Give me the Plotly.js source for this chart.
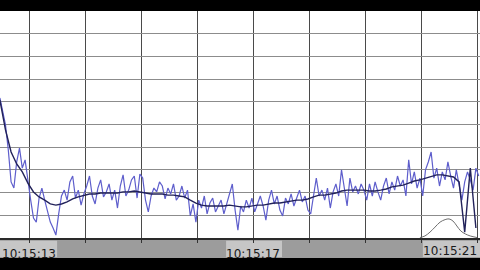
<!DOCTYPE html>
<html>
<head>
<meta charset="utf-8">
<script src="https://cdn.plot.ly/plotly-3.0.1.min.js"></script>
<style>
  html, body { margin: 0; padding: 0; background: #000; }
  #chart { width: 480px; height: 270px; }
</style>
</head>
<body>
<div id="chart"></div>
<script>
// ---- data (time in seconds after 10:15:00) ----
const tickSeconds = [13, 17];
const tickLabels = ["10:15:13", "10:15:17"];
const lastTickSeconds = [21];
const lastTickLabels = ["10:15:21"];

// raw signal, sampled every 0.05 s from 12.48 s
const RAW_START = 12.48, RAW_STEP = 0.05;
const rawValues = [
  6.17, 5.64, 4.98, 3.88, 2.47, 2.20, 3.35, 3.96, 3.08, 3.44,
  2.42, 1.67, 0.88, 0.70, 1.76, 2.20, 1.67, 1.15, 0.70, 0.44,
  0.13, 1.06, 1.85, 2.11, 1.67, 2.47, 2.73, 1.76, 2.11, 1.45,
  1.94, 2.29, 2.73, 1.85, 1.50, 2.20, 2.56, 1.81, 2.03, 2.38,
  1.67, 2.11, 1.32, 2.29, 2.78, 1.85, 2.11, 2.56, 2.73, 1.76,
  2.82, 2.64, 1.67, 1.15, 1.85, 2.20, 2.03, 2.47, 2.29, 1.72,
  2.20, 1.94, 2.38, 1.67, 1.85, 2.29, 1.76, 2.11, 0.97, 1.50,
  0.70, 1.67, 1.32, 1.85, 1.06, 1.54, 1.76, 1.15, 1.41, 1.67,
  1.06, 1.50, 1.85, 2.38, 1.23, 0.35, 1.41, 1.15, 1.67, 1.32,
  1.76, 1.15, 1.50, 1.85, 1.41, 0.79, 1.67, 2.11, 1.50, 1.85,
  1.23, 0.97, 1.76, 1.50, 1.94, 1.41, 1.76, 2.11, 1.59, 1.85,
  1.23, 1.06, 1.85, 2.64, 1.85, 2.11, 1.67, 2.20, 1.32, 2.03,
  2.38, 1.85, 3.00, 2.11, 1.41, 2.64, 2.03, 2.29, 1.94, 2.38,
  2.11, 1.67, 2.38, 1.85, 2.47, 2.03, 1.67, 2.29, 2.64, 1.94,
  2.47, 2.11, 2.73, 2.29, 2.56, 1.85, 3.44, 2.38, 2.91, 2.20,
  2.64, 1.85, 3.00, 3.35, 3.79, 2.64, 3.08, 2.29, 2.91, 2.56,
  3.35, 2.73, 2.20, 3.00, 2.38, 1.67, 2.47, 2.91, 2.56, 2.11,
  3.08, 2.73
];

// smoothed signal, sampled every 0.1 s from 12.48 s
const SMOOTH_START = 12.48, SMOOTH_STEP = 0.1;
const smoothValues = [
  6.08, 4.76, 3.79, 3.26, 2.91, 2.42, 2.03, 1.81, 1.67, 1.50,
  1.45, 1.50, 1.59, 1.72, 1.81, 1.89, 1.94, 1.94, 1.98, 1.98,
  1.98, 1.98, 2.03, 2.03, 2.07, 2.03, 1.98, 1.94, 1.94, 1.94,
  1.89, 1.89, 1.85, 1.81, 1.67, 1.54, 1.45, 1.41, 1.41, 1.41,
  1.41, 1.45, 1.41, 1.37, 1.37, 1.41, 1.45, 1.45, 1.50, 1.54,
  1.54, 1.59, 1.63, 1.67, 1.67, 1.72, 1.81, 1.89, 1.89, 1.94,
  1.98, 2.07, 2.11, 2.11, 2.11, 2.11, 2.07, 2.07, 2.11, 2.16,
  2.25, 2.29, 2.33, 2.42, 2.51, 2.56, 2.64, 2.73, 2.78, 2.78,
  2.73, 2.69, 2.47, 0.26, 3.08, 0.44
];

// bell-shaped curve near the right end
const bellTimes = [19.98, 20.07, 20.16, 20.25, 20.34, 20.43, 20.50, 20.57, 20.64, 20.71, 20.79, 20.88, 21.00];
const bellValues = [0.02, 0.09, 0.26, 0.48, 0.70, 0.81, 0.84, 0.75, 0.53, 0.31, 0.18, 0.09, 0.02];

const rawTimes = rawValues.map((_, i) => +(RAW_START + i * RAW_STEP).toFixed(3));
const smoothTimes = smoothValues.map((_, i) => +(SMOOTH_START + i * SMOOTH_STEP).toFixed(3));

const traces = [
  {
    x: rawTimes, y: rawValues, type: "scatter", mode: "lines",
    line: { color: "#5e5ecc", width: 1.2 }, hoverinfo: "skip"
  },
  {
    x: smoothTimes, y: smoothValues, type: "scatter", mode: "lines",
    line: { color: "#22225a", width: 1.4 }, hoverinfo: "skip"
  },
  {
    x: bellTimes, y: bellValues, type: "scatter", mode: "lines", xaxis: "x2",
    line: { color: "#6e6e6e", width: 1, shape: "spline" }, hoverinfo: "skip"
  }
];

const tickFont = { family: "DejaVu Sans", size: 12, color: "#1a1a1a" };
const xRange = [12.482, 21.053];

const layout = {
  width: 480, height: 270,
  margin: { l: 0, r: 0, t: 11, b: 32, pad: 0 },
  paper_bgcolor: "#000000",
  plot_bgcolor: "#ffffff",
  showlegend: false,
  xaxis: {
    range: xRange,
    tickmode: "array", tickvals: tickSeconds, ticktext: tickLabels,
    tickfont: tickFont,
    ticks: "outside", ticklen: 3, tickcolor: "#333333",
    ticklabelstandoff: 1,
    showgrid: true, gridcolor: "#4a4a4a", gridwidth: 1,
    minor: { dtick: 1, tick0: 13, showgrid: true, gridcolor: "#4a4a4a", gridwidth: 1,
             ticks: "outside", ticklen: 3, tickcolor: "#333333" },
    showline: true, linecolor: "#2a2a2a", linewidth: 2,
    zeroline: false, fixedrange: true
  },
  xaxis2: {
    overlaying: "x", matches: "x", range: xRange,
    tickmode: "array", tickvals: lastTickSeconds, ticktext: lastTickLabels,
    ticklabelposition: "outside left",
    tickfont: tickFont, ticks: "", ticklabelstandoff: 4,
    showgrid: false, showline: false, zeroline: false, fixedrange: true
  },
  yaxis: {
    range: [0, 10], dtick: 1, tick0: 0,
    showticklabels: false, ticks: "",
    showgrid: true, gridcolor: "#8c8c8c", gridwidth: 1,
    zeroline: false, showline: false, fixedrange: true
  },
  shapes: [
    { type: "rect", xref: "paper", yref: "paper", x0: 0, x1: 1, y0: -0.003, y1: -0.088,
      fillcolor: "#9c9c9c", line: { width: 0 }, layer: "below" },
    { type: "rect", xref: "paper", yref: "paper", x0: 0, x1: 0.119, y0: -0.012, y1: -0.084,
      fillcolor: "#c6c6c6", line: { width: 0 }, layer: "below" },
    { type: "rect", xref: "paper", yref: "paper", x0: 0.471, x1: 0.5875, y0: -0.012, y1: -0.084,
      fillcolor: "#c6c6c6", line: { width: 0 }, layer: "below" },
    { type: "rect", xref: "paper", yref: "paper", x0: 0.881, x1: 1, y0: -0.012, y1: -0.084,
      fillcolor: "#c6c6c6", line: { width: 0 }, layer: "below" }
  ]
};

Plotly.newPlot("chart", traces, layout, { staticPlot: true, displayModeBar: false });
</script>
</body>
</html>
